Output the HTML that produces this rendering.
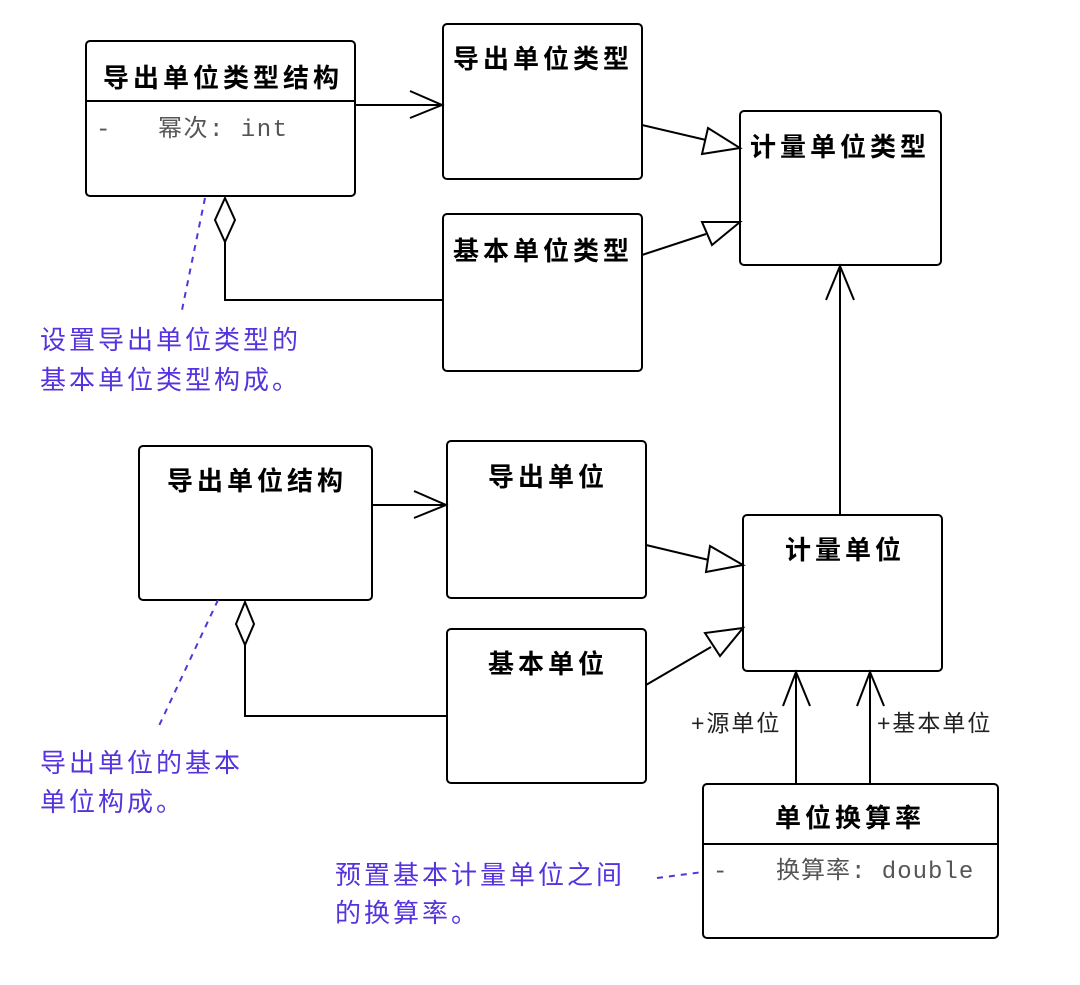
<!DOCTYPE html>
<html><head><meta charset="utf-8"><style>
html,body{margin:0;padding:0;background:#fff;}
svg{display:block;}
.t{font-family:"Liberation Sans","Noto Sans CJK SC",sans-serif;font-weight:bold;font-size:26px;letter-spacing:4px;fill:#000;}
.a{font-family:"Liberation Mono","Noto Sans CJK SC",monospace;font-size:24px;fill:#555;}
.n{font-family:"Liberation Sans","Noto Sans CJK SC",sans-serif;font-size:26px;letter-spacing:3px;fill:#5533dd;}
.l{font-family:"Liberation Sans","Noto Sans CJK SC",sans-serif;font-size:23px;letter-spacing:2px;fill:#222;}
</style></head><body>
<svg width="1080" height="985" viewBox="0 0 1080 985" xmlns="http://www.w3.org/2000/svg">
<g fill="#fff" stroke="#000" stroke-width="2">
<rect x="86" y="41" width="269" height="155" rx="4"/>
<rect x="443" y="24" width="199" height="155" rx="4"/>
<rect x="740" y="111" width="201" height="154" rx="4"/>
<rect x="443" y="214" width="199" height="157" rx="4"/>
<rect x="139" y="446" width="233" height="154" rx="4"/>
<rect x="447" y="441" width="199" height="157" rx="4"/>
<rect x="743" y="515" width="199" height="156" rx="4"/>
<rect x="447" y="629" width="199" height="154" rx="4"/>
<rect x="703" y="784" width="295" height="154" rx="4"/>
</g>
<g stroke="#000" stroke-width="2" fill="none">
<line x1="86" y1="101" x2="355" y2="101"/>
<line x1="703" y1="844" x2="998" y2="844"/>
<line x1="355" y1="105" x2="442" y2="105"/><polyline points="410,91 442,105 410,118"/>
<line x1="372" y1="505" x2="446" y2="505"/><polyline points="414,491 446,505 414,518"/>
<line x1="840" y1="515" x2="840" y2="266"/><polyline points="826,300 840,266 854,300"/>
<line x1="796" y1="784" x2="796" y2="672"/><polyline points="783,706 796,672 810,706"/>
<line x1="870" y1="784" x2="870" y2="672"/><polyline points="857,706 870,672 884,706"/>
<polyline points="225,242 225,300 443,300"/>
<polyline points="245,645 245,716 447,716"/>
</g>
<g stroke="#000" stroke-width="2" fill="#fff">
<polygon points="225,198 235,220 225,242 215,220"/>
<polygon points="245,602 254,624 245,645 236,624"/>
<line x1="642" y1="125" x2="706" y2="140"/><polygon points="740,148 702,154 708,128"/>
<line x1="642" y1="255" x2="706" y2="234"/><polygon points="740,222 712,245 702,222"/>
<line x1="646" y1="545" x2="709" y2="560"/><polygon points="743,565 706,572 710,546"/>
<line x1="646" y1="685" x2="711" y2="647"/><polygon points="743,628 720,656 705,633"/>
</g>
<g stroke="#5533dd" stroke-width="2" stroke-dasharray="6,6" fill="none">
<line x1="205" y1="198" x2="182" y2="310"/>
<line x1="218" y1="600" x2="157" y2="730"/>
<line x1="657" y1="878" x2="703" y2="872"/>
</g>
<text class="t" x="103" y="87">导出单位类型结构</text>
<text class="a" x="96" y="136">-</text><text class="a" x="158" y="136" letter-spacing="1.5">幂次: int</text>
<text class="t" x="453" y="68">导出单位类型</text>
<text class="t" x="750" y="156">计量单位类型</text>
<text class="t" x="453" y="260">基本单位类型</text>
<text class="t" x="167" y="490">导出单位结构</text>
<text class="t" x="488" y="486">导出单位</text>
<text class="t" x="785" y="559">计量单位</text>
<text class="t" x="488" y="673">基本单位</text>
<text class="t" x="775" y="827">单位换算率</text>
<text class="a" x="713" y="878">-</text><text class="a" x="776" y="878" letter-spacing="1">换算率: double</text>
<text class="l" x="691" y="731">+源单位</text>
<text class="l" x="877" y="731">+基本单位</text>
<text class="n" x="40" y="349">设置导出单位类型的</text>
<text class="n" x="40" y="389">基本单位类型构成。</text>
<text class="n" x="40" y="772">导出单位的基本</text>
<text class="n" x="40" y="811">单位构成。</text>
<text class="n" x="335" y="884">预置基本计量单位之间</text>
<text class="n" x="335" y="922">的换算率。</text>
</svg>
</body></html>
